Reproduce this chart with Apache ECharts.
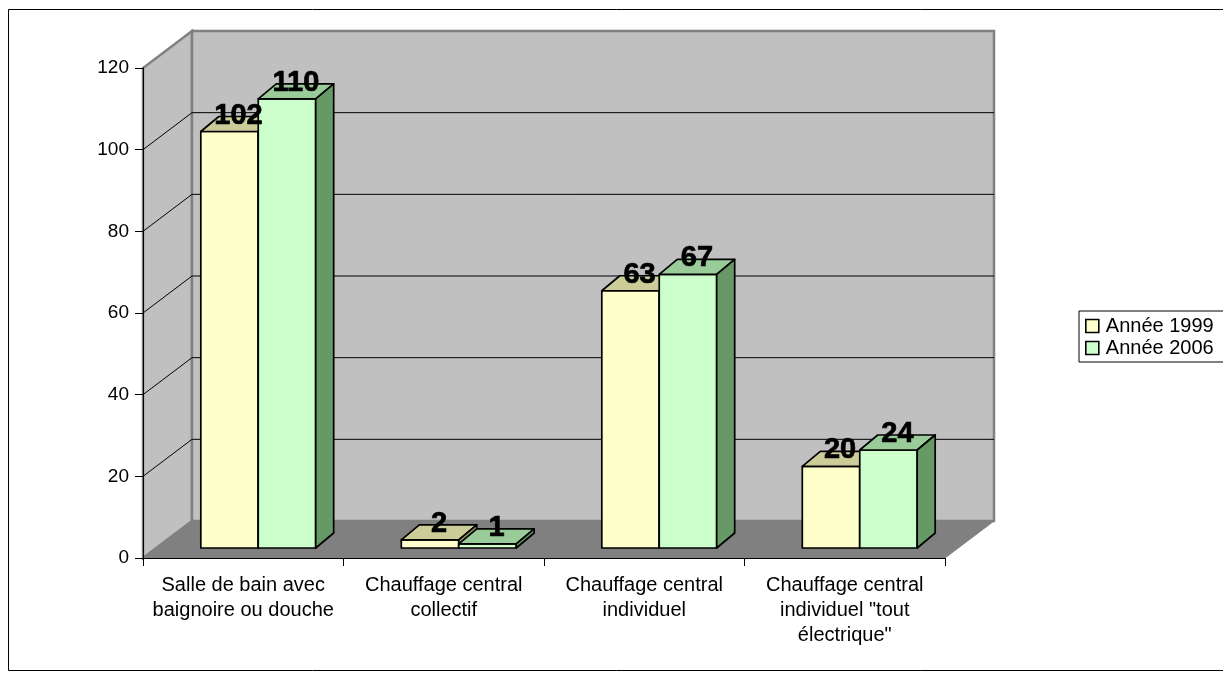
<!DOCTYPE html>
<html>
<head>
<meta charset="utf-8">
<script src="https://cdn.jsdelivr.net/npm/echarts@6/dist/echarts.min.js"></script>
<style>
  html, body { margin: 0; padding: 0; background: #ffffff; }
  #chart { width: 1223px; height: 677px; }
</style>
</head>
<body>
<div id="chart"></div>
<script>
// Équipement des logements : 1999 vs 2006
const categories = [
  'Salle de bain avec\nbaignoire ou douche',
  'Chauffage central\ncollectif',
  'Chauffage central\nindividuel',
  'Chauffage central\nindividuel "tout\nélectrique"'
];
const seriesNames = ['Année 1999', 'Année 2006'];
const values1999 = [102, 2, 63, 20];
const values2006 = [110, 1, 67, 24];
const yMin = 0, yMax = 120, yStep = 20;
const gridLineValues = [20, 40, 60, 80, 100];

// pseudo-3D geometry (pixels)
const WALL = { dx: 49, dy: -37 };   // depth of the back wall
const FRONT = { dx: 15, dy: -10 };  // bar front plane offset from the axis plane
const DEPTH = { dx: 18, dy: -15 };  // depth of each bar
const BAR_RATIO = 0.2865;           // bar width as share of the category band

const palettes = [
  { front: '#FFFFCC', top: '#CCCC99', side: '#999966' },
  { front: '#CCFFCC', top: '#99CC99', side: '#669966' }
];
const FONT = '"Liberation Sans", Arial, Helvetica, sans-serif';

function barGeometry(api, seriesIdx) {
  const cat = api.value(0), val = api.value(1);
  const top = api.coord([cat, val]);
  const base = api.coord([cat, 0]);
  const band = api.size([1, 0])[0];
  const w = band * BAR_RATIO;
  const xl = base[0] - w + seriesIdx * w + FRONT.dx;
  const yt = top[1] + FRONT.dy;
  const yb = base[1] + FRONT.dy;
  return { xl, w, yt, yb, val };
}

function barRenderer(seriesIdx) {
  const pal = palettes[seriesIdx];
  return function (params, api) {
    const g = barGeometry(api, seriesIdx);
    const line = { stroke: '#000', lineWidth: 1.7, lineJoin: 'round' };
    const xr = g.xl + g.w;
    return {
      type: 'group',
      children: [
        { type: 'rect', shape: { x: g.xl, y: g.yt, width: g.w, height: g.yb - g.yt },
          style: Object.assign({ fill: pal.front }, line) },
        { type: 'polygon', shape: { points: [[g.xl, g.yt], [xr, g.yt], [xr + DEPTH.dx, g.yt + DEPTH.dy], [g.xl + DEPTH.dx, g.yt + DEPTH.dy]] },
          style: Object.assign({ fill: pal.top }, line) },
        { type: 'polygon', shape: { points: [[xr, g.yt], [xr + DEPTH.dx, g.yt + DEPTH.dy], [xr + DEPTH.dx, g.yb + DEPTH.dy], [xr, g.yb]] },
          style: Object.assign({ fill: pal.side }, line) }
      ]
    };
  };
}

function labelRenderer(seriesIdx) {
  return function (params, api) {
    const g = barGeometry(api, seriesIdx);
    return {
      type: 'text',
      style: {
        x: g.xl + g.w / 2 + DEPTH.dx / 2,
        y: g.yt - 16,
        text: String(g.val),
        fill: '#000',
        stroke: '#000',
        lineWidth: 0.7,
        font: 'bold 29px ' + FONT,
        textAlign: 'center',
        textVerticalAlign: 'middle'
      }
    };
  };
}

function frameRenderer(params, api) {
  const cs = params.coordSys;
  const x0 = cs.x, x1 = cs.x + cs.width, yT = cs.y, yB = cs.y + cs.height;
  const bx0 = x0 + WALL.dx, bx1 = x1 + WALL.dx, byT = yT + WALL.dy, byB = yB + WALL.dy;
  const edge = { stroke: '#808080', lineWidth: 2.5, lineJoin: 'miter' };
  const children = [
    // floor
    { type: 'polygon', shape: { points: [[x0, yB], [x1, yB], [bx1, byB], [bx0, byB]] },
      style: { fill: '#808080', stroke: '#808080', lineWidth: 1 } },
    // side wall
    { type: 'polygon', shape: { points: [[x0, yB], [x0, yT], [bx0, byT], [bx0, byB]] },
      style: Object.assign({ fill: '#C0C0C0' }, edge) },
    // back wall
    { type: 'rect', shape: { x: bx0, y: byT, width: bx1 - bx0, height: byB - byT },
      style: Object.assign({ fill: '#C0C0C0' }, edge) }
  ];
  gridLineValues.forEach(function (v) {
    const y = api.coord([0, v])[1];
    children.push({ type: 'line', shape: { x1: bx0, y1: y + WALL.dy, x2: bx1, y2: y + WALL.dy },
      style: { stroke: '#000', lineWidth: 1 } });
    children.push({ type: 'line', shape: { x1: x0, y1: y, x2: bx0, y2: y + WALL.dy },
      style: { stroke: '#000', lineWidth: 1 } });
  });
  return { type: 'group', children: children };
}

const chart = echarts.init(document.getElementById('chart'), null, { renderer: 'canvas' });

chart.setOption({
  animation: false,
  backgroundColor: '#ffffff',
  textStyle: { fontFamily: FONT },
  graphic: [{
    type: 'rect', z: -10, silent: true,
    shape: { x: 8.5, y: 9.5, width: 1240, height: 661 },
    style: { fill: 'none', stroke: '#000', lineWidth: 1 }
  }],
  grid: { left: 143, top: 68, width: 802, height: 490 },
  legend: {
    data: seriesNames,
    orient: 'vertical',
    left: 1079, top: 311,
    padding: [5, 40, 4, 6],
    itemGap: 2,
    itemWidth: 13, itemHeight: 13,
    icon: 'rect',
    selectedMode: false,
    borderColor: '#000', borderWidth: 1,
    backgroundColor: '#fff',
    itemStyle: { borderColor: '#000', borderWidth: 1.6 },
    textStyle: { fontSize: 20, color: '#000', fontFamily: FONT, padding: [0, 0, 0, 2] }
  },
  xAxis: {
    type: 'category',
    data: categories,
    z: 5,
    axisLine: { lineStyle: { color: '#000', width: 1 } },
    axisTick: { show: true, length: 8, inside: false, lineStyle: { color: '#000' } },
    axisLabel: { color: '#000', fontSize: 20, lineHeight: 25, margin: 15, interval: 0, fontFamily: FONT },
    splitLine: { show: false }
  },
  yAxis: {
    type: 'value',
    min: yMin, max: yMax, interval: yStep,
    z: 5,
    axisLine: { show: true, lineStyle: { color: '#000', width: 1 } },
    axisTick: { show: true, length: 8, lineStyle: { color: '#000' } },
    axisLabel: { color: '#000', fontSize: 19, margin: 14, fontFamily: FONT },
    splitLine: { show: false }
  },
  series: [
    { type: 'custom', name: 'cadre', z: 1, silent: true, renderItem: frameRenderer,
      data: [[0, 0]], encode: { x: 0, y: 1 } },
    { type: 'custom', name: seriesNames[0], z: 2, renderItem: barRenderer(0),
      itemStyle: { color: palettes[0].front },
      data: values1999.map(function (v, i) { return [i, v]; }), encode: { x: 0, y: 1 } },
    { type: 'custom', name: seriesNames[1], z: 2, renderItem: barRenderer(1),
      itemStyle: { color: palettes[1].front },
      data: values2006.map(function (v, i) { return [i, v]; }), encode: { x: 0, y: 1 } },
    { type: 'custom', name: 'valeurs 1999', z: 3, silent: true, renderItem: labelRenderer(0),
      data: values1999.map(function (v, i) { return [i, v]; }), encode: { x: 0, y: 1 } },
    { type: 'custom', name: 'valeurs 2006', z: 3, silent: true, renderItem: labelRenderer(1),
      data: values2006.map(function (v, i) { return [i, v]; }), encode: { x: 0, y: 1 } }
  ]
});
</script>
</body>
</html>
